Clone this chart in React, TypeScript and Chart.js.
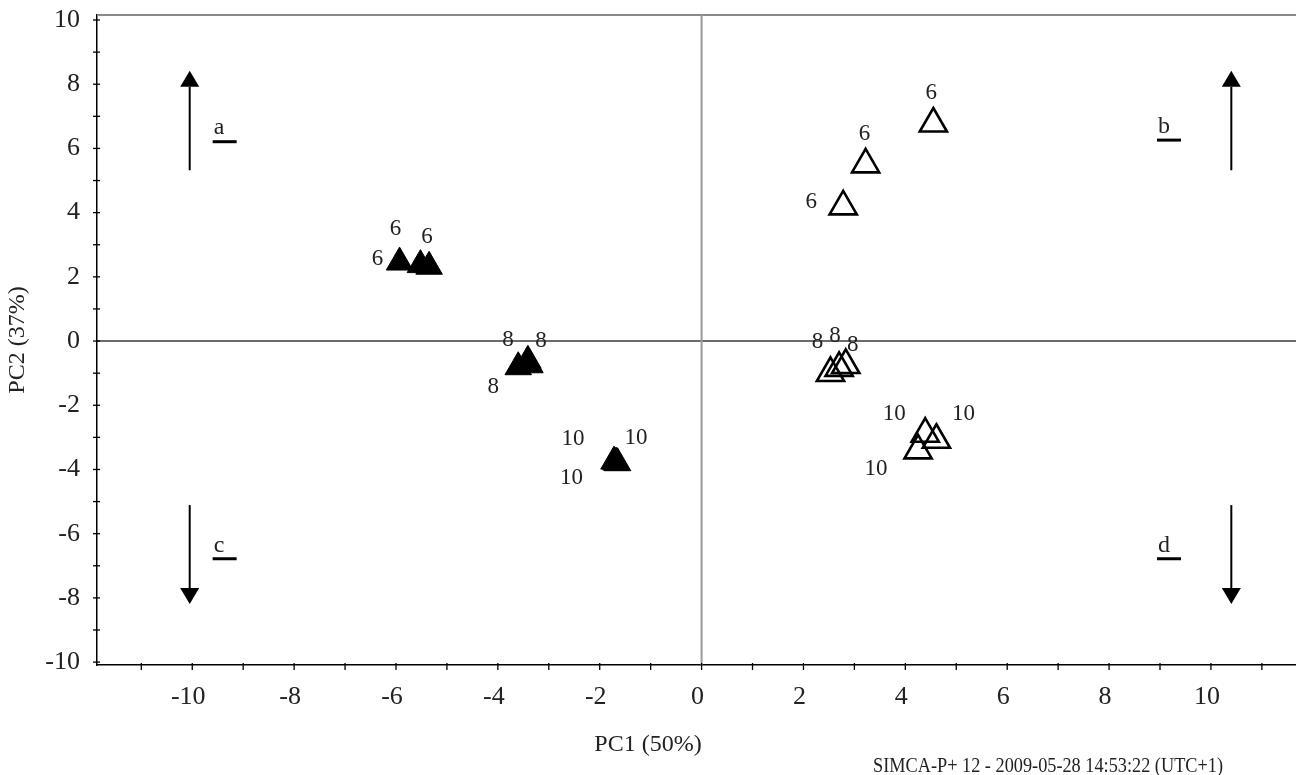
import React, { useEffect, useRef } from 'react';
import { Chart, registerables } from 'chart.js';

Chart.register(...registerables);

// ---- data ----
const filledPC1 = [-5.93, -5.52, -5.35, -3.6, -3.41, -3.37, -1.72, -1.68, -1.65];
const filledPC2 = [2.45, 2.37, 2.32, -0.81, -0.61, -0.75, -3.75, -3.78, -3.8];
const filledTimes = ['6', '6', '6', '8', '8', '8', '10', '10', '10'];

const openPC1 = [4.55, 3.22, 2.78, 2.53, 2.7, 2.83, 4.39, 4.61, 4.25];
const openPC2 = [6.77, 5.5, 4.19, -1.0, -0.84, -0.75, -2.89, -3.08, -3.41];
const openTimes = ['6', '6', '6', '8', '8', '8', '10', '10', '10'];

// label placement relative to each point (pixels)
const filledLabelOffsets = [[-22, -3], [-25, -36], [-2, -30], [-25, 20], [-20, -21], [11, -24], [-41, -23], [20, -24], [-46, 15]];
const openLabelOffsets = [[-2, -31], [-1, -31], [-32, -5], [-13, -31], [-4, -32], [7, -20], [-31, -20], [27, -26], [-42, 18]];

// corner arrows and letters
const arrowPC1 = [-10.05, 10.4, -10.05, 10.4];
const arrowTailPC2 = [5.32, 5.32, -5.11, -5.11];
const arrowHeadPC2 = [8.42, 8.42, -8.19, -8.19];
const cornerLetters = ['a', 'b', 'c', 'd'];
const letterPC1 = [-9.58, 8.96, -9.58, 8.96];
const letterPC2 = [6.63, 6.68, -6.36, -6.36];

const xMin = -11.87;
const xMax = 11.67;
const yMin = -10.09;
const yMax = 10.156;

const xTitle = 'PC1 (50%)';
const yTitle = 'PC2 (37%)';
const footer = 'SIMCA-P+ 12 - 2009-05-28 14:53:22 (UTC+1)';

const SERIF = "'Liberation Serif', 'Times New Roman', serif";

const tickLabel = (v: number | string) => {
  const n = Math.round(Number(v));
  return n % 2 === 0 ? String(n) : '';
};

const decorPlugin = {
  id: 'decor',
  beforeDatasetsDraw(chart: any) {
    const { ctx, chartArea } = chart;
    const xs = chart.scales.x;
    const ys = chart.scales.y;
    ctx.save();
    // top frame line
    ctx.strokeStyle = '#8a8a8a';
    ctx.lineWidth = 2;
    ctx.beginPath();
    ctx.moveTo(chartArea.left, chartArea.top);
    ctx.lineTo(chartArea.right, chartArea.top);
    ctx.stroke();
    // zero lines
    const y0 = ys.getPixelForValue(0);
    ctx.strokeStyle = '#3a3a3a';
    ctx.lineWidth = 1.5;
    ctx.beginPath();
    ctx.moveTo(chartArea.left, y0);
    ctx.lineTo(chartArea.right, y0);
    ctx.stroke();
    const x0 = xs.getPixelForValue(0);
    ctx.strokeStyle = '#9a9a9a';
    ctx.lineWidth = 2;
    ctx.beginPath();
    ctx.moveTo(x0, chartArea.top);
    ctx.lineTo(x0, chartArea.bottom);
    ctx.stroke();
    ctx.restore();
  },
  afterDraw(chart: any) {
    const { ctx, chartArea } = chart;
    const xs = chart.scales.x;
    const ys = chart.scales.y;
    ctx.save();
    // tick marks crossing the axes
    ctx.strokeStyle = '#000';
    ctx.lineWidth = 1.3;
    for (const t of xs.ticks) {
      const px = xs.getPixelForValue(t.value);
      ctx.beginPath();
      ctx.moveTo(px, chartArea.bottom - 2);
      ctx.lineTo(px, chartArea.bottom + 5);
      ctx.stroke();
    }
    for (const t of ys.ticks) {
      const py = ys.getPixelForValue(t.value);
      ctx.beginPath();
      ctx.moveTo(chartArea.left - 4, py);
      ctx.lineTo(chartArea.left + 3, py);
      ctx.stroke();
    }

    // point labels
    ctx.fillStyle = '#222';
    ctx.font = `23px ${SERIF}`;
    ctx.textAlign = 'center';
    ctx.textBaseline = 'middle';
    const drawLabels = (dsIndex: number, texts: string[], offs: number[][]) => {
      const meta = chart.getDatasetMeta(dsIndex);
      meta.data.forEach((el: any, i: number) => {
        ctx.fillText(texts[i], el.x + offs[i][0], el.y + offs[i][1]);
      });
    };
    drawLabels(0, filledTimes, filledLabelOffsets);
    drawLabels(1, openTimes, openLabelOffsets);

    // arrows
    ctx.strokeStyle = '#000';
    ctx.fillStyle = '#000';
    for (let i = 0; i < arrowPC1.length; i++) {
      const ax = xs.getPixelForValue(arrowPC1[i]);
      const ty = ys.getPixelForValue(arrowTailPC2[i]);
      const hy = ys.getPixelForValue(arrowHeadPC2[i]);
      const dir = hy < ty ? -1 : 1;
      const headLen = 16;
      ctx.lineWidth = 2;
      ctx.beginPath();
      ctx.moveTo(ax, ty);
      ctx.lineTo(ax, hy - dir * headLen);
      ctx.stroke();
      ctx.beginPath();
      ctx.moveTo(ax, hy);
      ctx.lineTo(ax - 9.5, hy - dir * headLen);
      ctx.lineTo(ax + 9.5, hy - dir * headLen);
      ctx.closePath();
      ctx.fill();
    }

    // corner letters with underline
    ctx.font = `24px ${SERIF}`;
    ctx.textAlign = 'left';
    ctx.textBaseline = 'middle';
    for (let i = 0; i < cornerLetters.length; i++) {
      const lx = xs.getPixelForValue(letterPC1[i]);
      const ly = ys.getPixelForValue(letterPC2[i]);
      ctx.fillStyle = '#222';
      ctx.fillText(cornerLetters[i], lx, ly);
      ctx.fillStyle = '#000';
      ctx.fillRect(lx - 1, ly + 12, 24, 3);
    }

    // axis titles
    ctx.fillStyle = '#222';
    ctx.font = `24px ${SERIF}`;
    ctx.textAlign = 'center';
    ctx.textBaseline = 'middle';
    ctx.fillText(xTitle, 648, 745);
    ctx.save();
    ctx.translate(18, (chartArea.top + chartArea.bottom) / 2);
    ctx.rotate(-Math.PI / 2);
    ctx.fillText(yTitle, 0, 0);
    ctx.restore();

    // footer (condensed)
    ctx.save();
    ctx.font = `21px ${SERIF}`;
    ctx.textAlign = 'right';
    ctx.textBaseline = 'alphabetic';
    ctx.translate(1223, 772);
    ctx.scale(0.87, 1);
    ctx.fillText(footer, 0, 0);
    ctx.restore();

    ctx.restore();
  },
};

export default function App() {
  const canvasRef = useRef<HTMLCanvasElement | null>(null);

  useEffect(() => {
    if (!canvasRef.current) return;
    const chart = new Chart(canvasRef.current, {
      type: 'scatter',
      data: {
        datasets: [
          {
            label: 'filled',
            data: filledPC1.map((x, i) => ({ x, y: filledPC2[i] })),
            pointStyle: 'triangle',
            pointRadius: 15.3,
            backgroundColor: '#000',
            borderColor: '#000',
            borderWidth: 1,
          },
          {
            label: 'open',
            data: openPC1.map((x, i) => ({ x, y: openPC2[i] })),
            pointStyle: 'triangle',
            pointRadius: 15.7,
            backgroundColor: 'rgba(0,0,0,0)',
            borderColor: '#000',
            borderWidth: 2.6,
          },
        ],
      },
      options: {
        animation: false,
        responsive: false,
        events: [],
        layout: { autoPadding: false, padding: { top: 15, right: 0, left: 0, bottom: 0 } },
        plugins: {
          legend: { display: false },
          tooltip: { enabled: false },
        },
        scales: {
          x: {
            type: 'linear',
            min: xMin,
            max: xMax,
            afterFit: (scale: any) => {
              scale.height = 110;
              scale.paddingLeft = 0;
              scale.paddingRight = 0;
              scale.paddingTop = 0;
              scale.paddingBottom = 0;
            },
            grid: { display: false, drawTicks: false },
            border: { display: true, color: '#000', width: 1.5 },
            ticks: {
              stepSize: 1,
              includeBounds: false,
              autoSkip: false,
              maxRotation: 0,
              padding: 17,
              labelOffset: -4,
              color: '#222',
              font: { family: SERIF, size: 26 },
              callback: tickLabel,
            },
          },
          y: {
            type: 'linear',
            min: yMin,
            max: yMax,
            afterFit: (scale: any) => {
              scale.width = 97;
              scale.paddingLeft = 0;
              scale.paddingRight = 0;
              scale.paddingTop = 0;
              scale.paddingBottom = 0;
            },
            grid: { display: false, drawTicks: false },
            border: { display: true, color: '#000', width: 1.5 },
            ticks: {
              stepSize: 1,
              includeBounds: false,
              autoSkip: false,
              padding: 17,
              color: '#222',
              font: { family: SERIF, size: 26 },
              callback: tickLabel,
            },
          },
        },
      },
      plugins: [decorPlugin],
    });
    return () => chart.destroy();
  }, []);

  return (
    <div style={{ position: 'absolute', left: 0, top: 0, width: 1296, height: 775, background: '#fff' }}>
      <canvas ref={canvasRef} width={1296} height={775} />
    </div>
  );
}
